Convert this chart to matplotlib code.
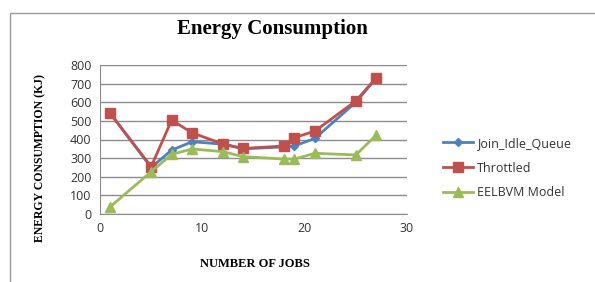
import matplotlib.pyplot as plt
from matplotlib.patches import Rectangle

# number of jobs on the x axis
jobs = [1, 5, 7, 9, 12, 14, 18, 19, 21, 25, 27]

# energy consumption (KJ) per series
join_idle_queue = [540, 250, 343, 388, 375, 350, 360, 365, 406, 600, 730]
throttled = [540, 254, 504, 436, 376, 352, 365, 410, 445, 607, 732]
eelbvm = [39, 227, 320, 349, 335, 308, 295, 295, 326, 317, 424]

series_names = ["Join_Idle_Queue", "Throttled", "EELBVM Model"]
yticks = [0, 100, 200, 300, 400, 500, 600, 700, 800]
xticks = [0, 10, 20, 30]

fig = plt.figure(figsize=(5.95, 2.82), dpi=100)

# chart area border (only left and top edges are visible in the crop)
fig.patches.append(Rectangle((10 / 595, -0.1), 1.0, 1 - 13 / 282 + 0.1,
                             transform=fig.transFigure, fill=False,
                             edgecolor="#999999", linewidth=1.0))

ax = fig.add_axes([100 / 595, 1 - 214 / 282, 307 / 595, 149 / 282])

ax.plot(jobs, join_idle_queue, color="#4F81BD", marker="D", markersize=4,
        linewidth=2, label=series_names[0])
ax.plot(jobs, throttled, color="#C0504D", marker="s", markersize=7.5,
        linewidth=2, label=series_names[1])
ax.plot(jobs, eelbvm, color="#9BBB59", marker="^", markersize=7,
        linewidth=2, label=series_names[2])

ax.set_xlim(0, 30)
ax.set_ylim(0, 800)
ax.set_xticks(xticks)
ax.set_yticks(yticks)
ax.grid(axis="y", color="#8c8c8c", linewidth=1)
ax.set_axisbelow(True)
for side in ["top", "right"]:
    ax.spines[side].set_visible(False)
for side in ["left", "bottom"]:
    ax.spines[side].set_color("#8c8c8c")
ax.tick_params(length=0, labelsize=9, colors="#333333", pad=6)
for lbl in ax.get_xticklabels() + ax.get_yticklabels():
    lbl.set_family("Open Sans")

fig.text(272 / 595, 1 - 29 / 282, "Energy Consumption", ha="center",
         va="center", family="Liberation Serif", fontweight="bold",
         fontsize=15)
fig.text(255 / 595, 1 - 264 / 282, "NUMBER OF JOBS", ha="center",
         va="center", family="Liberation Serif", fontweight="bold",
         fontsize=9)
fig.text(40 / 595, 1 - 158 / 282, "ENERGY CONSUMPTION (KJ)", ha="center",
         va="center", rotation=90, family="Liberation Serif",
         fontweight="bold", fontsize=8.5)

fig.legend(loc="center left", bbox_to_anchor=(432 / 595, 1 - 168 / 282),
           frameon=False, prop={"family": "Open Sans", "size": 9},
           handlelength=2.4, handletextpad=0.3, labelspacing=0.95,
           labelcolor="#333333")

fig.savefig("out.png", dpi=100)
